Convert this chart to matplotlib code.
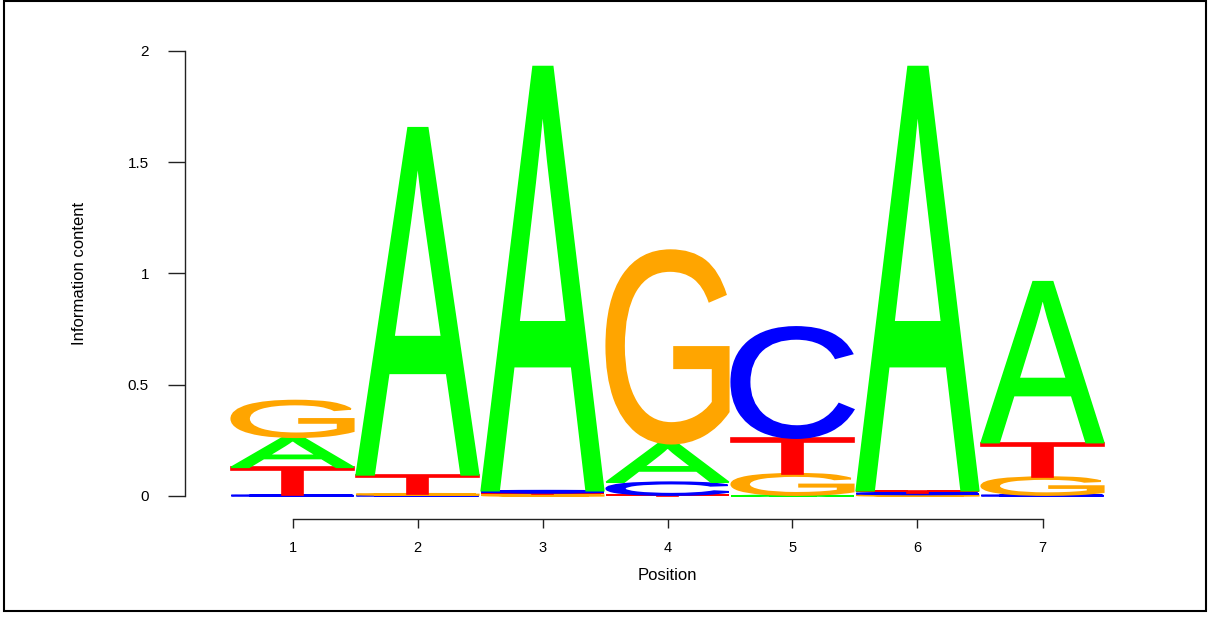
import numpy as np
import matplotlib.pyplot as plt
from matplotlib.textpath import TextPath
from matplotlib.font_manager import FontProperties
from matplotlib.patches import PathPatch, Rectangle
from matplotlib.transforms import Affine2D

# sequence logo data (bits per letter)
positions = [1, 2, 3, 4, 5, 6, 7]
nucleotides = ["A", "C", "G", "T"]
height_A = [0.135, 1.560, 1.906, 0.173, 0.004, 1.906, 0.723]
height_C = [0.004, 0.004, 0.009, 0.058, 0.500, 0.008, 0.004]
height_G = [0.165, 0.006, 0.007, 0.870, 0.096, 0.007, 0.081]
height_T = [0.125, 0.085, 0.008, 0.004, 0.160, 0.009, 0.155]
y_ticks = [0, 0.5, 1, 1.5, 2]
y_tick_labels = ["0", "0.5", "1", "1.5", "2"]

colors = {"A": "#00ff00", "C": "#0000ff", "G": "#ffa500", "T": "#ff0000"}
heights = {"A": height_A, "C": height_C, "G": height_G, "T": height_T}

letter_font = FontProperties(family="Liberation Sans", weight="normal")


def letter_patch(ch, x0, y0, w, h, color):
    # glyph outline stretched to fill the box (x0, y0, w, h)
    tp = TextPath((0, 0), ch, size=1, prop=letter_font)
    bb = tp.get_extents()
    tr = (Affine2D().translate(-bb.x0, -bb.y0)
          .scale(w / bb.width, h / bb.height).translate(x0, y0))
    return PathPatch(tr.transform_path(tp), facecolor=color,
                     edgecolor=color, lw=1.2)


fig = plt.figure(figsize=(12.14, 6.17), dpi=100)
ax = fig.add_axes([185 / 1214, 1 - 519 / 617, 925 / 1214, 479 / 617])

for i, pos in enumerate(positions):
    h = np.array([heights[n][i] for n in nucleotides])
    order = np.argsort(h, kind="stable")  # smallest at the bottom
    base = 0.0
    for k in order:
        n = nucleotides[k]
        ax.add_patch(letter_patch(n, pos - 0.49, base, 0.98, h[k], colors[n]))
        base += h[k]

ax.set_xlim(0.14, 7.54)
ax.set_ylim(-0.1034, 2.0494)

for s in ["top", "right"]:
    ax.spines[s].set_visible(False)
ax.spines["left"].set_bounds(0, 2)
ax.spines["bottom"].set_bounds(1, 7)
for s in ["left", "bottom"]:
    ax.spines[s].set_color("#222222")
    ax.spines[s].set_linewidth(1.0)

ax.set_xticks(positions)
ax.set_xticklabels([str(p) for p in positions], fontsize=10.5,
                   family="Liberation Sans")
ax.set_yticks(y_ticks)
ax.set_yticklabels(y_tick_labels, fontsize=11, family="Liberation Sans")
ax.tick_params(axis="y", length=12, pad=14, width=1.0, color="#222222")
ax.tick_params(axis="x", length=6.5, pad=9, width=1.0, color="#222222")

fig.text(79 / 1214, 1 - 273 / 617, "Information content", rotation=90,
         ha="center", va="center", fontsize=12,
         family=["Liberation Sans Narrow", "Liberation Sans"])
fig.text(667 / 1214, 1 - 575 / 617, "Position", ha="center", va="center",
         fontsize=12, family="Liberation Sans")

# frame round the whole picture
fig.patches.append(Rectangle((4 / 1214, 6 / 617), 1202 / 1214, 610 / 617,
                             transform=fig.transFigure, fill=False,
                             edgecolor="black", lw=1.5))

fig.savefig("out.png", dpi=100)
